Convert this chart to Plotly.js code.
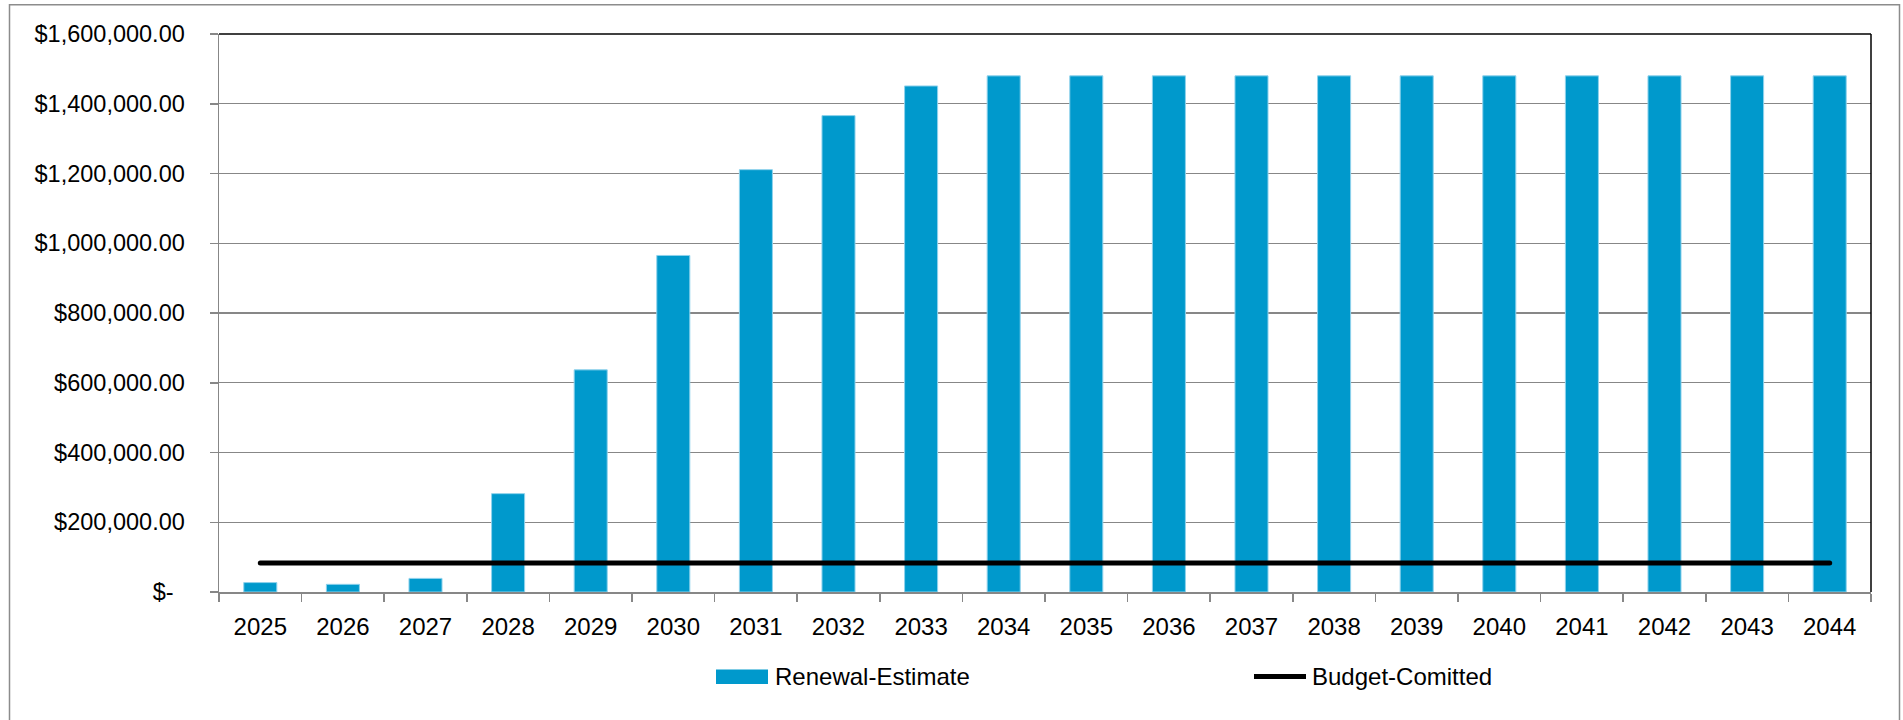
<!DOCTYPE html>
<html>
<head>
<meta charset="utf-8">
<script src="https://cdn.plot.ly/plotly-3.0.1.min.js"></script>
<style>
  html, body { margin: 0; padding: 0; background: #ffffff; }
  #chart { width: 1903px; height: 720px; }
  .scatterlayer .js-line { stroke-linecap: round; }
</style>
</head>
<body>
<div id="chart"></div>
<script>
// Years on the category axis
const years = ['2025', '2026', '2027', '2028', '2029', '2030', '2031', '2032', '2033', '2034',
               '2035', '2036', '2037', '2038', '2039', '2040', '2041', '2042', '2043', '2044'];

// Estimated renewal cost per year
const renewalEstimate = [27000, 22000, 39000, 282000, 637000, 965000, 1211000, 1366000, 1451000, 1480000,
                         1480000, 1480000, 1480000, 1480000, 1480000, 1480000, 1480000, 1480000, 1480000, 1480000];

// Committed budget per year
const budgetCommitted = [83000, 83000, 83000, 83000, 83000, 83000, 83000, 83000, 83000, 83000,
                         83000, 83000, 83000, 83000, 83000, 83000, 83000, 83000, 83000, 83000];

// Value axis ticks (accounting format)
const yTickVals = [0, 200000, 400000, 600000, 800000, 1000000, 1200000, 1400000, 1600000];
const yTickText = ['$-\u00A0\u2009', '$200,000.00', '$400,000.00', '$600,000.00', '$800,000.00',
                   '$1,000,000.00', '$1,200,000.00', '$1,400,000.00', '$1,600,000.00'];

const seriesNames = ['Renewal-Estimate', 'Budget-Comitted'];

// Page geometry
const W = 1903, H = 720;
const M = { l: 219, r: 32, t: 34, b: 128 };
const PW = W - M.l - M.r, PH = H - M.t - M.b;
const px = x => (x - M.l) / PW;
const py = y => (H - M.b - y) / PH;

const FONT = 'Liberation Sans, Arial, sans-serif';
const BAR_COLOR = '#0099cc';
const GRID = '#878787';

const traces = [
  {
    type: 'bar',
    name: seriesNames[0],
    x: years,
    y: renewalEstimate,
    marker: { color: BAR_COLOR, line: { color: '#8fd2ec', width: 1 } },
    showlegend: false,
    hoverinfo: 'skip'
  },
  {
    type: 'scatter',
    mode: 'lines',
    name: seriesNames[1],
    x: years,
    y: budgetCommitted,
    line: { color: '#000000', width: 5 },
    showlegend: false,
    cliponaxis: false,
    hoverinfo: 'skip'
  }
];

// Legend keys, drawn beneath the axis labels
const legendY = 676.5;
const shapes = [
  // chart frame
  { type: 'rect', xref: 'paper', yref: 'paper', x0: px(9.5), x1: px(1899.5), y0: py(740), y1: py(4.7),
    line: { color: '#8c8c8c', width: 1.5 }, fillcolor: 'rgba(0,0,0,0)', layer: 'below' },
  // plot area top and right edges
  { type: 'line', xref: 'paper', yref: 'paper', x0: 0, x1: 1, y0: 1, y1: 1, line: { color: '#000000', width: 1.5 } },
  { type: 'line', xref: 'paper', yref: 'paper', x0: 1, x1: 1, y0: 0, y1: 1, line: { color: '#000000', width: 1.5 } },
  // legend swatch for bars
  { type: 'rect', xref: 'paper', yref: 'paper', x0: px(716), x1: px(768), y0: py(684), y1: py(669.5),
    fillcolor: BAR_COLOR, line: { width: 0 } },
  // legend swatch for line
  { type: 'line', xref: 'paper', yref: 'paper', x0: px(1254), x1: px(1306), y0: py(legendY), y1: py(legendY),
    line: { color: '#000000', width: 5 } }
];

const annotations = [
  { xref: 'paper', yref: 'paper', x: px(773), y: py(legendY), xanchor: 'left', yanchor: 'middle',
    text: seriesNames[0], showarrow: false, font: { family: FONT, size: 24, color: '#000000' } },
  { xref: 'paper', yref: 'paper', x: px(1310), y: py(legendY), xanchor: 'left', yanchor: 'middle',
    text: seriesNames[1], showarrow: false, font: { family: FONT, size: 24, color: '#000000' } }
];

const layout = {
  width: W,
  height: H,
  margin: M,
  paper_bgcolor: '#ffffff',
  plot_bgcolor: '#ffffff',
  bargap: 0.6,
  showlegend: false,
  font: { family: FONT, size: 24, color: '#000000' },
  xaxis: {
    type: 'category',
    tickson: 'boundaries',
    ticks: 'outside',
    ticklen: 8,
    tickwidth: 1.5,
    tickcolor: GRID,
    showline: true,
    linecolor: GRID,
    linewidth: 1.5,
    showgrid: false,
    ticklabelstandoff: 13,
    tickfont: { family: FONT, size: 24, color: '#000000' }
  },
  yaxis: {
    range: [0, 1600000],
    tickmode: 'array',
    tickvals: yTickVals,
    ticktext: yTickText,
    ticks: 'outside',
    ticklen: 8,
    tickwidth: 1.5,
    tickcolor: GRID,
    showline: true,
    linecolor: GRID,
    linewidth: 1.5,
    showgrid: true,
    gridcolor: GRID,
    gridwidth: 1.3,
    zeroline: false,
    ticklabelstandoff: 20,
    tickfont: { family: FONT, size: 23.5, color: '#000000' }
  },
  shapes: shapes,
  annotations: annotations
};

Plotly.newPlot('chart', traces, layout, { staticPlot: true, displayModeBar: false });
</script>
</body>
</html>
